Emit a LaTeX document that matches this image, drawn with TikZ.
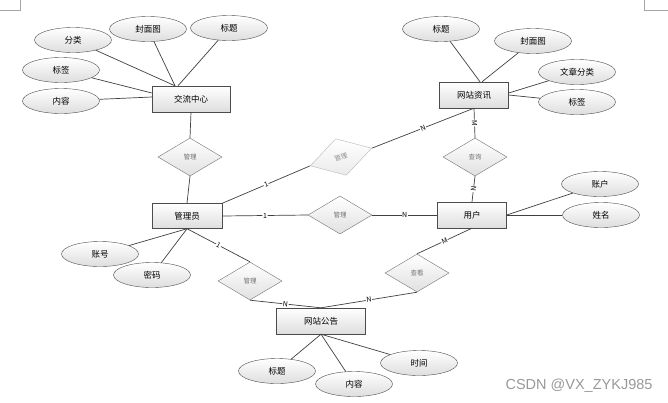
\documentclass[tikz,border=0pt]{standalone}
\usepackage{fontspec}
\setmainfont{Noto Sans CJK SC}
\newfontfamily\wmfont{Liberation Sans}
\usetikzlibrary{shapes.geometric}
\begin{document}
\begin{tikzpicture}[x=1pt,y=-1pt,every node/.style={align=center,font=\fontsize{8.5}{10}\selectfont},
  ent/.style={draw=black!70,top color=white,bottom color=black!13,minimum height=26pt,inner sep=0pt},
  attr/.style={draw=black!70,ellipse,top color=white,bottom color=black!13,minimum width=77pt,minimum height=25pt,inner sep=0pt},
  rel/.style={draw=black!55,diamond,top color=white,bottom color=black!12,minimum width=64pt,minimum height=38pt,inner sep=0pt,text=black!55,font=\fontsize{6.5}{8}\selectfont},
  card/.style={fill=white,inner sep=0.6pt,font=\fontsize{7}{8}\selectfont,sloped,pos=.5},
  conn/.style={draw=black!75,line width=0.7pt}]
\fill[white] (0,0) rectangle (668,402);
\useasboundingbox (0,0) rectangle (668,402);
\draw[black!35] (0,10)--(20,10)--(20,0);\draw[black!35] (668,10)--(644,10)--(644,0);
\node[ent,minimum width=78pt] (jl) at (191,99) {交流中心};
\node[ent,minimum width=69pt] (zx) at (474,95) {网站资讯};
\node[ent,minimum width=70pt,minimum height=25pt] (gly) at (187,216) {管理员};
\node[ent,minimum width=69pt] (yh) at (472,215) {用户};
\node[ent,minimum width=89pt] (gg) at (321,321) {网站公告};
\node[attr] (jlfl) at (73,40) {分类};
\node[attr] (jlfm) at (148,29) {封面图};
\node[attr] (jlbt) at (229,28) {标题};
\node[attr] (jlbq) at (61,70) {标签};
\node[attr] (jlnr) at (61,101) {内容};
\node[attr] (zxbt) at (441,29) {标题};
\node[attr] (zxfm) at (533,41) {封面图};
\node[attr] (zxfl) at (577,72) {文章分类};
\node[attr] (zxbq) at (577,102) {标签};
\node[attr] (zh) at (100,254) {账号};
\node[attr] (mm) at (152,275) {密码};
\node[attr] (yhzh) at (600,184) {账户};
\node[attr] (xm) at (601,215) {姓名};
\node[attr] (ggbt) at (277,371) {标题};
\node[attr] (ggnr) at (354,384) {内容};
\node[attr] (ggsj) at (419,363) {时间};
\node[rel] (gl1) at (190,157) {管理};
\node[rel,rotate=16,draw=black!28,text=black!45,bottom color=black!8] (gl2) at (341,157) {管理};
\node[rel] (cx) at (475,157) {查询};
\node[rel] (gl3) at (340,215) {管理};
\node[rel] (gl4) at (250,281) {管理};
\node[rel] (ck) at (417,273) {查看};
\draw[conn] (jlfl)--([xshift=-16pt]jl.north);\draw[conn] (jlfm)--([xshift=-16pt]jl.north);
\draw[conn] (jlbt)--([xshift=-13pt]jl.north);\draw[conn] (jlbq)--([yshift=6pt]jl.west);
\draw[conn] (jlnr)--([yshift=2pt]jl.west);
\draw[conn] (zxbt)--([xshift=6pt]zx.north);\draw[conn] (zxfm)--([xshift=8pt]zx.north);
\draw[conn] (zxfl)--([yshift=2pt]zx.east);\draw[conn] (zxbq)--(zx.east);
\draw[conn] (zh)--(gly.south);\draw[conn] (mm)--(gly.south);
\draw[conn] (yhzh)--(yh.east);\draw[conn] (xm)--(yh.east);
\draw[conn] (ggbt)--(gg.south);\draw[conn] (ggnr)--(gg.south);\draw[conn] (ggsj)--(gg.south);
\draw[conn] (jl.south)--(gl1.north);\draw[conn] (gl1.south)--(gly.north);
\draw[conn] (gly.north east)--(gl2.west) node[card]{1};\draw[conn] (gl2.east)--(zx.south) node[card]{N};
\draw[conn] (zx.south)--(cx.north) node[card]{M};\draw[conn] (cx.south)--(yh.north) node[card]{N};
\draw[conn] (gly.east)--(gl3.west) node[card]{1};\draw[conn] (gl3.east)--(yh.west) node[card]{N};
\draw[conn] (gly.south)--(gl4.north) node[card]{1};\draw[conn] (gl4.south)--(gg.north) node[card]{N};
\draw[conn] (yh.south)--(ck.north) node[card]{M};\draw[conn] (ck.south)--(gg.north) node[card]{N};
\node[anchor=east,text=black!40,font=\wmfont\fontsize{14.5}{16}\selectfont] (wm) at (656,386) {CSDN @VX\_ZYKJ985};
\end{tikzpicture}
\end{document}
